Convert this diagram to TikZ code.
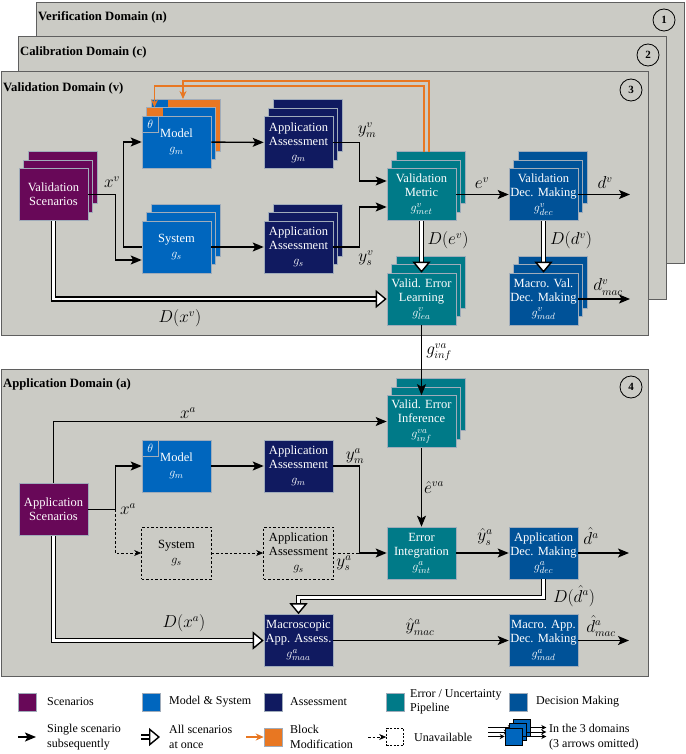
\documentclass[tikz,border=0pt]{standalone}
\usepackage{fontspec}
\setmainfont{Liberation Serif}
\usetikzlibrary{arrows.meta,shadows}

\definecolor{panel}{RGB}{203,203,197}
\definecolor{frame}{RGB}{95,95,95}
\definecolor{edge}{RGB}{160,172,186}
\definecolor{scen}{RGB}{104,8,88}
\definecolor{modsys}{RGB}{0,102,190}
\definecolor{assess}{RGB}{16,26,96}
\definecolor{errpipe}{RGB}{0,122,136}
\definecolor{decis}{RGB}{0,82,152}
\definecolor{modif}{RGB}{232,119,34}

\tikzset{
  dompanel/.style={fill=panel, draw=frame, line width=1pt},
  domtitle/.style={anchor=west, inner sep=0pt, font=\fontsize{12.7}{15}\selectfont\bfseries},
  domnum/.style={circle, draw=black, line width=0.8pt, minimum size=22pt, inner sep=0pt,
    font=\fontsize{11}{13}\selectfont\bfseries},
  blk/.style={rectangle, fill=#1, draw=edge, line width=0.6pt, text=white, align=center,
    minimum width=69pt, minimum height=52pt, inner sep=0pt, font=\fontsize{12.5}{14}\selectfont},
  pile/.style={copy shadow={shadow xshift=9pt, shadow yshift=17pt, fill=#1, draw=edge, line width=0.6pt},
    copy shadow={shadow xshift=4.5pt, shadow yshift=8.5pt, fill=#1, draw=edge, line width=0.6pt}},
  ghost/.style={rectangle, draw=black, line width=0.7pt, dash pattern=on 2.5pt off 2pt, align=center,
    minimum width=70pt, minimum height=52pt, inner sep=0pt, font=\fontsize{12.5}{14}\selectfont},
  thetabox/.style={rectangle, fill=modsys, draw=edge, line width=0.6pt, text=white, anchor=north west,
    minimum size=16.5pt, inner sep=0pt, font=\fontsize{12.5}{14}\selectfont},
  lbl/.style={inner sep=0pt, font=\fontsize{16}{18}\selectfont},
  ln/.style={line width=1.4pt},
  arr/.style={line width=1.4pt, -{Stealth[length=11pt, width=9pt, inset=2.5pt]}},
  hol/.style={line width=1.4pt, double=white, double distance=2.8pt,
    -{Triangle[length=11pt, width=18pt, fill=white, line width=1.4pt]}},
  dsh/.style={line width=0.8pt, dash pattern=on 2.5pt off 2pt, -{Stealth[length=7pt, width=6pt]}},
  dshln/.style={line width=0.8pt, dash pattern=on 2.5pt off 2pt},
  oarr/.style={draw=modif, line width=1.6pt, -{Stealth[length=8pt, width=7pt]}},
  legsq/.style={rectangle, fill=#1, draw=edge, line width=0.6pt, minimum size=18pt, inner sep=0pt},
  legtxt/.style={anchor=west, align=left, inner sep=0pt, font=\fontsize{12}{14.5}\selectfont},
  mini/.style={rectangle, fill=modsys, draw=black, line width=0.6pt, minimum size=17pt, inner sep=0pt},
  miniarr/.style={line width=0.8pt, -{Stealth[length=5pt, width=5pt]}}
}

\begin{document}
\begin{tikzpicture}[x=1pt, y=-1pt]
\useasboundingbox (0,0) rectangle (685,754);

% the four domains
\draw[dompanel] (36,3) rectangle (684,263);
\node[domtitle] (tn) at (38,17) {Verification Domain (n)};
\node[domnum] (cn) at (664,20) {1};
\draw[dompanel] (18,37) rectangle (666,299);
\node[domtitle] (tc) at (20,52) {Calibration Domain (c)};
\node[domnum] (cc) at (648,55) {2};
\draw[dompanel] (1,72) rectangle (648,335);
\node[domtitle] (tv) at (3,88) {Validation Domain (v)};
\node[domnum] (cv) at (631,90) {3};
\draw[dompanel] (1,369) rectangle (648,676);
\node[domtitle] (ta) at (3,384) {Application Domain (a)};
\node[domnum] (ca) at (631,387) {4};

% validation blocks
\node[blk=scen, pile=scen] (vscen) at (53.5,194.5) {Validation\\Scenarios};
\filldraw[fill=modsys, draw=edge, line width=0.6pt] (151,99) rectangle (220,151);
\fill[modif] (167.5,99) rectangle (220,151);
\draw[edge, line width=0.6pt] (151,99) rectangle (220,151);
\filldraw[fill=modsys, draw=edge, line width=0.6pt] (146.5,107.5) rectangle (215.5,159.5);
\fill[modif] (146.5,107.5) rectangle (163,124);
\draw[edge, line width=0.6pt] (146.5,107.5) rectangle (215.5,159.5);
\node[blk=modsys] (vmod) at (176.5,142) {Model\\[1pt]$g_m$};
\node[thetabox] (vth) at (vmod.north west) {$\theta$};
\node[blk=modsys, pile=modsys] (vsys) at (176.5,247) {System\\[1pt]$g_s$};
\node[blk=assess, pile=assess] (vaam) at (298.5,142.5) {Application\\Assessment\\[1pt]$g_m$};
\node[blk=assess, pile=assess] (vaas) at (298.5,247) {Application\\Assessment\\[1pt]$g_s$};
\node[blk=errpipe, pile=errpipe] (vmet) at (421.5,194.5) {Validation\\Metric\\[1pt]$g^v_{met}$};
\node[blk=decis, pile=decis] (vdec) at (543.5,194.5) {Validation\\Dec. Making\\[1pt]$g^v_{dec}$};
\node[blk=errpipe, pile=errpipe] (vlea) at (421.5,299) {Valid. Error\\Learning\\[1pt]$g^v_{lea}$};
\node[blk=decis, pile=decis] (vmad) at (543.5,299) {Macro. Val.\\Dec. Making\\[1pt]$g^v_{mad}$};

% validation connectors
\draw[arr] (vscen.east) -- ++(27,0) |- ([yshift=-13pt]vsys.west);
\draw[arr] (vsys.west) -- ++(-18,0) |- (vmod.west);
\draw[arr] (vmod) -- (vaam);
\draw[arr] (vsys) -- (vaas);
\draw[arr] (vaam.east) -- ++(26,0) |- ([yshift=13.5pt]vmet.west);
\draw[arr] (vaas.east) -- ++(26,0) |- ([yshift=-12.5pt]vmet.west);
\draw[arr] (vmet) -- (vdec);
\coordinate (vdout) at (630,194.5);
\draw[arr] (vdec) -- (vdout);
\coordinate (vmout) at (630,299);
\draw[arr] (vmad) -- (vmout);
\draw[hol] (vmet) -- (vlea);
\draw[hol] (vdec) -- (vmad);
\draw[hol] (vscen.south) |- (vlea.west);
\coordinate (vmodback) at (183,99);
\coordinate (vthmid) at (154.5,107.5);
\coordinate (vmetbackA) at (429,152);
\coordinate (vmetbackB) at (424,152);
\draw[oarr] (vmetbackA) -- ++(0,-71) -| (vmodback);
\draw[oarr] (vmetbackB) -- ++(0,-66) -| (vthmid);

\node[lbl] (lxv) at (112,182) {$x^v$};
\node[lbl] (lymv) at (367,130) {$y^v_m$};
\node[lbl] (lysv) at (366,258) {$y^v_s$};
\node[lbl] (lev) at (482,183) {$e^v$};
\node[lbl] (ldv) at (605,183) {$d^v$};
\node[lbl] (lDev) at (448,240) {$D(e^v)$};
\node[lbl] (lDdv) at (571,240) {$D(d^v)$};
\node[lbl] (lDxv) at (180,318) {$D(x^v)$};
\node[lbl] (ldmv) at (608,287) {$d^v_{mac}$};

% application blocks
\node[blk=scen] (ascen) at (53.5,509.5) {Application\\Scenarios};
\node[blk=modsys] (amod) at (176.5,466) {Model\\[1pt]$g_m$};
\node[thetabox] (ath) at (amod.north west) {$\theta$};
\node[blk=assess] (aaam) at (298.5,466) {Application\\Assessment\\[1pt]$g_m$};
\node[ghost] (asys) at (176.5,553) {System\\[1pt]$g_s$};
\node[ghost] (aaas) at (298.5,553) {Application\\Assessment\\[1pt]$g_s$};
\node[blk=errpipe, pile=errpipe] (ainf) at (421.5,421.5) {Valid. Error\\Inference\\[1pt]$g^{va}_{inf}$};
\node[blk=errpipe] (aint) at (421.5,553) {Error\\Integration\\[1pt]$g^a_{int}$};
\node[blk=decis] (adec) at (543.5,553) {Application\\Dec. Making\\[1pt]$g^a_{dec}$};
\node[blk=assess] (amaa) at (298.5,640.5) {Macroscopic\\App. Assess.\\[1pt]$g^a_{maa}$};
\node[blk=decis] (amad) at (543.5,640.5) {Macro. App.\\Dec. Making\\[1pt]$g^a_{mad}$};

% application connectors
\draw[arr] (vlea) -- (ainf);
\draw[arr] (ascen.north) |- (ainf.west);
\draw[ln] (ascen.east) -- ++(27,0) coordinate (afork);
\draw[arr] (afork) |- (amod.west);
\draw[dsh] (afork) |- (asys.west);
\draw[dsh] (asys) -- (aaas);
\draw[dshln] (aaas.east) -- ++(25,0);
\draw[arr] (amod) -- (aaam);
\draw[arr] (aaam.east) -- ++(26,0) |- (aint.west);
\draw[arr] (ainf) -- (aint);
\draw[arr] (aint) -- (adec);
\coordinate (adout) at (629,553);
\draw[arr] (adec) -- (adout);
\draw[hol] (adec.south) -- ++(0,18) -| (amaa.north);
\draw[hol] (ascen.south) |- (amaa.west);
\draw[arr] (amaa) -- (amad);
\coordinate (amout) at (629,640.5);
\draw[arr] (amad) -- (amout);

\node[lbl] (lginf) at (439,352) {$g^{va}_{inf}$};
\node[lbl] (lxa) at (188,413) {$x^a$};
\node[lbl] (lxa2) at (128,509) {$x^a$};
\node[lbl] (lyma) at (355,456) {$y^a_m$};
\node[lbl] (lysa) at (344,563) {$y^a_s$};
\node[lbl] (leva) at (434,487) {$\hat{e}^{va}$};
\node[lbl] (lysha) at (485,537) {$\hat{y}^a_s$};
\node[lbl] (lda) at (591,536) {$\hat{d}^a$};
\node[lbl] (lDda) at (574,596) {$D(\hat{d}^a)$};
\node[lbl] (lDxa) at (184,623) {$D(x^a)$};
\node[lbl] (lymac) at (420,627) {$\hat{y}^a_{mac}$};
\node[lbl] (ldmac) at (601,626) {$\hat{d}^a_{mac}$};

% legend
\node[legsq=scen] (lg1) at (27,702) {};
\node[legtxt] (lt1) at (47,702) {Scenarios};
\node[legsq=modsys] (lg2) at (151,702) {};
\node[legtxt] (lt2) at (169,702) {Model \& System};
\node[legsq=assess] (lg3) at (273,702) {};
\node[legtxt] (lt3) at (290,702) {Assessment};
\node[legsq=errpipe] (lg4) at (395,702) {};
\node[legtxt] (lt4) at (410,702) {Error / Uncertainty\\Pipeline};
\node[legsq=decis] (lg5) at (518,702) {};
\node[legtxt] (lt5) at (536,702) {Decision Making};

\coordinate (la1) at (18,737);
\draw[arr] (la1) -- ++(18,0);
\node[legtxt] (lt6) at (47,737) {Single scenario\\subsequently};
\coordinate (la2) at (141,737);
\draw[hol] (la2) -- ++(19,0);
\node[legtxt] (lt7) at (169,737) {All scenarios\\at once};
\node[legsq=modif] (lg8) at (273,737) {};
\coordinate (la3) at (246,737);
\draw[oarr] (la3) -- (lg8.west);
\node[legtxt] (lt8) at (290,737) {Block\\Modification};
\node[rectangle, draw=black, line width=0.7pt, dash pattern=on 2pt off 1.5pt, minimum size=17pt, inner sep=0pt] (lg9) at (395,737) {};
\coordinate (la4) at (368,737);
\draw[dsh] (la4) -- (lg9.west);
\node[legtxt] (lt9) at (414,737) {Unavailable};

\node[mini] (mi3) at (521.5,727.5) {};
\coordinate (mi3in) at (488,727.5);
\draw[miniarr] (mi3in) -- (mi3.west);
\draw[miniarr] (mi3.east) -- ++(16,0);
\node[mini] (mi2) at (517.5,732) {};
\coordinate (mi2in) at (488,732);
\draw[miniarr] (mi2in) -- (mi2.west);
\draw[miniarr] (mi2.east) -- ++(20,0);
\node[mini] (mi1) at (513.5,736.5) {};
\coordinate (mi1in) at (488,736.5);
\draw[miniarr] (mi1in) -- (mi1.west);
\draw[miniarr] (mi1.east) -- ++(24,0);
\node[legtxt] (lt10) at (549,737) {In the 3 domains\\(3 arrows omitted)};
\end{tikzpicture}
\end{document}
